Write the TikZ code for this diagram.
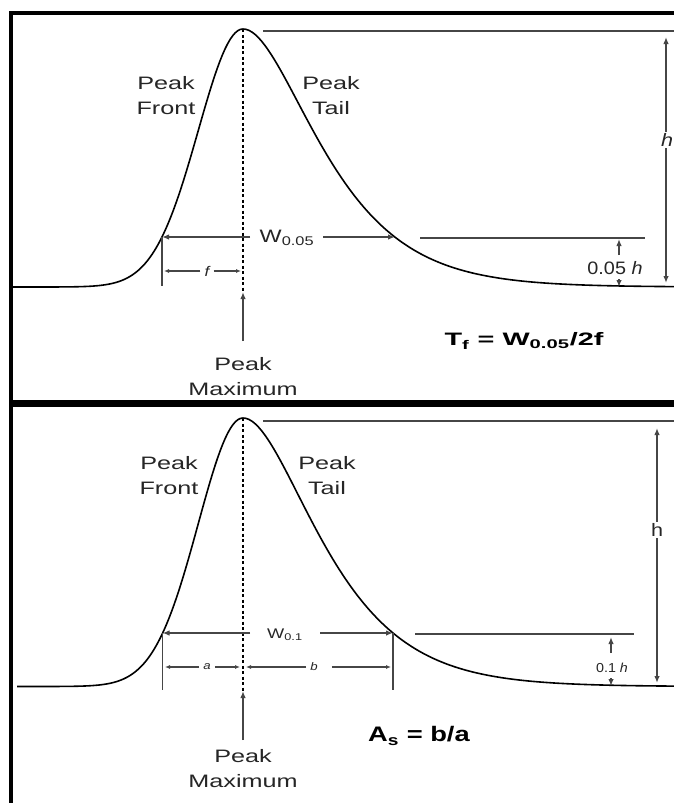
\documentclass[tikz,border=0pt]{standalone}
\usepackage{fontspec}
\setmainfont{Liberation Sans}
\usetikzlibrary{positioning, arrows.meta}
\definecolor{lineGray}{RGB}{70,70,70}
\newcommand{\wide}[2][1.4]{\scalebox{#1}[1]{#2}}
% peak shape: gaussian front, widening tail (u in units of 100px from the apex)
\newcommand{\peakfront}[1]{exp(-(#1*#1)/0.4)}
\newcommand{\peaktail}[1]{exp(-(#1*#1)/(0.615+0.52*#1))}
\tikzset{
  curve/.style={line width=1.6pt, black, line join=round},
  lvl/.style={line width=1.8pt, lineGray},
  dim/.style={-{Latex[length=7pt,width=5.5pt]}, line width=1.4pt, lineGray},
  dimboth/.style={{Latex[length=7pt,width=5.5pt]}-{Latex[length=7pt,width=5.5pt]}, line width=1.4pt, lineGray},
  dimsm/.style={-{Latex[length=5pt,width=4pt]}, line width=1.1pt, lineGray},
  pkax/.style={dash pattern=on 3pt off 2.5pt, line width=1.3pt, black},
  lbl/.style={align=center, inner sep=0pt, font=\fontsize{18}{25}\selectfont, text=black!85},
  small/.style={lbl, inner xsep=4pt, font=\fontsize{#1}{#1}\selectfont\itshape},
  frm/.style={inner sep=0pt, font=\fontsize{#1}{#1}\selectfont\bfseries},
  panelrule/.style={line width=4pt, black},
}

\begin{document}
\begin{tikzpicture}[x=1pt, y=-1pt]
  \useasboundingbox (0,0) rectangle (674,803);
  \clip (0,0) rectangle (674,803);
  \fill[white] (0,0) rectangle (674,803);
  % panel borders
  \draw[panelrule] (11.3,803) -- (11.3,13.3) -- (680,13.3);
  \draw[line width=7pt] (9.3,403) -- (680,403);

  % ===== upper panel: tailing factor
  \coordinate (pk1) at (243,29);
  \coordinate (ax1) at (243,292);
  \coordinate (mx1) at (243,341);
  \coordinate (lf1) at (162,237);
  \coordinate (rt1) at (395,237);
  \draw[curve] plot[domain=-2.3:0, samples=90] ({243+100*\x}, {287-258*\peakfront{\x}})
    -- plot[domain=0:4.31, samples=140] ({243+100*\x}, {287-258*\peaktail{\x}});
  \draw[lvl] (263,31) coordinate (tl1) -- (674,31) coordinate (tr1);
  \draw[dimboth] (666,37) coordinate (ht1) -- (666,283) coordinate (hb1);
  \node[lbl, fill=white, inner sep=1pt] (h1) at (667,140) {\wide[1.2]{\itshape h}};
  \draw[pkax] (pk1) -- (ax1);
  \draw[dim] (mx1) -- (ax1);
  \node[lbl, below=16pt of mx1] (max1) {\wide{Peak}\\\wide{Maximum}};
  \node[lbl] (front1) at (166,96) {\wide{Peak}\\\wide{Front}};
  \node[lbl] (tail1) at (331,96) {\wide{Peak}\\\wide{Tail}};
  % width at 5% height
  \node[lbl] (w1) at (287,238) {\wide[1.3]{W\textsubscript{0.05}}};
  \draw[dim] (250,237) -- (lf1);
  \draw[dim] (323,237) -- (rt1);
  \draw[lvl] (420,238) coordinate (sl1) -- (645,238) coordinate (sr1);
  \draw[lvl, line width=1.5pt] (lf1) -- (162,286) coordinate (tk1);
  \node[small=14] (f1) at (207,271) {\wide[1.2]{f}};
  \draw[dimsm] (f1.west) -- (164,271);
  \draw[dimsm] (f1.east) -- (241,271);
  \node[lbl] (q1) at (615,268) {\wide[1.1]{0.05 \itshape h}};
  \draw[dim] (619,255) -- (619,239);
  \draw[dim] (619,279) -- (619,287);
  \node[frm=18] (tf) at (524,341) {\wide[1.6]{T\textsubscript{f} = W\textsubscript{0.05}/2f}};

  % ===== lower panel: asymmetry factor
  \coordinate (pk2) at (243,418);
  \coordinate (ax2) at (243,691);
  \coordinate (mx2) at (243,740);
  \coordinate (lf2) at (162.5,633);
  \coordinate (rt2) at (393,633);
  \draw[curve] plot[domain=-2.26:0, samples=90] ({243+100*\x}, {686.5-268.5*\peakfront{\x}})
    -- plot[domain=0:4.31, samples=140] ({243+100*\x}, {686.5-268.5*\peaktail{\x}});
  \draw[lvl] (263,421) coordinate (tl2) -- (674,421) coordinate (tr2);
  \draw[dimboth] (657,428) coordinate (ht2) -- (657,683) coordinate (hb2);
  \node[lbl, fill=white, inner sep=1pt] (h2) at (657,530) {\wide[1.2]{h}};
  \draw[pkax] (pk2) -- (ax2);
  \draw[dim] (mx2) -- (ax2);
  \node[lbl, below=9pt of mx2] (max2) {\wide{Peak}\\\wide{Maximum}};
  \node[lbl] (front2) at (169,476) {\wide{Peak}\\\wide{Front}};
  \node[lbl] (tail2) at (327,476) {\wide{Peak}\\\wide{Tail}};
  % width at 10% height
  \node[lbl, font=\fontsize{14}{14}\selectfont] (w2) at (285,635) {\wide[1.3]{W\textsubscript{0.1}}};
  \draw[dim] (250,633) -- (lf2);
  \draw[dim] (320,633) -- (rt2);
  \draw[lvl] (415,634) coordinate (sl2) -- (634,634) coordinate (sr2);
  \draw[lvl, line width=1.5pt] (lf2) -- (162.5,690) coordinate (tk2);
  \draw[lvl, line width=1.5pt] (rt2) -- (393,690) coordinate (tk3);
  \node[small=11] (a2) at (207,667) {\wide[1.2]{a}};
  \draw[dimsm] (a2.west) -- (165,667);
  \draw[dimsm] (a2.east) -- (240,667);
  \node[small=11] (b2) at (314,667) {\wide[1.2]{b}};
  \draw[dimsm] (b2.west) -- (246,667);
  \draw[dimsm] ([xshift=10pt]b2.east) -- (391,667);
  \node[lbl, font=\fontsize{13}{13}\selectfont] (q2) at (612,668) {\wide[1.1]{0.1 \itshape h}};
  \draw[dim] (611,653) -- (611,637);
  \draw[dim] (611,678) -- (611,686);
  \node[frm=21] (as) at (419,736) {\wide[1.3]{A\textsubscript{s} = b/a}};
\end{tikzpicture}
\end{document}
